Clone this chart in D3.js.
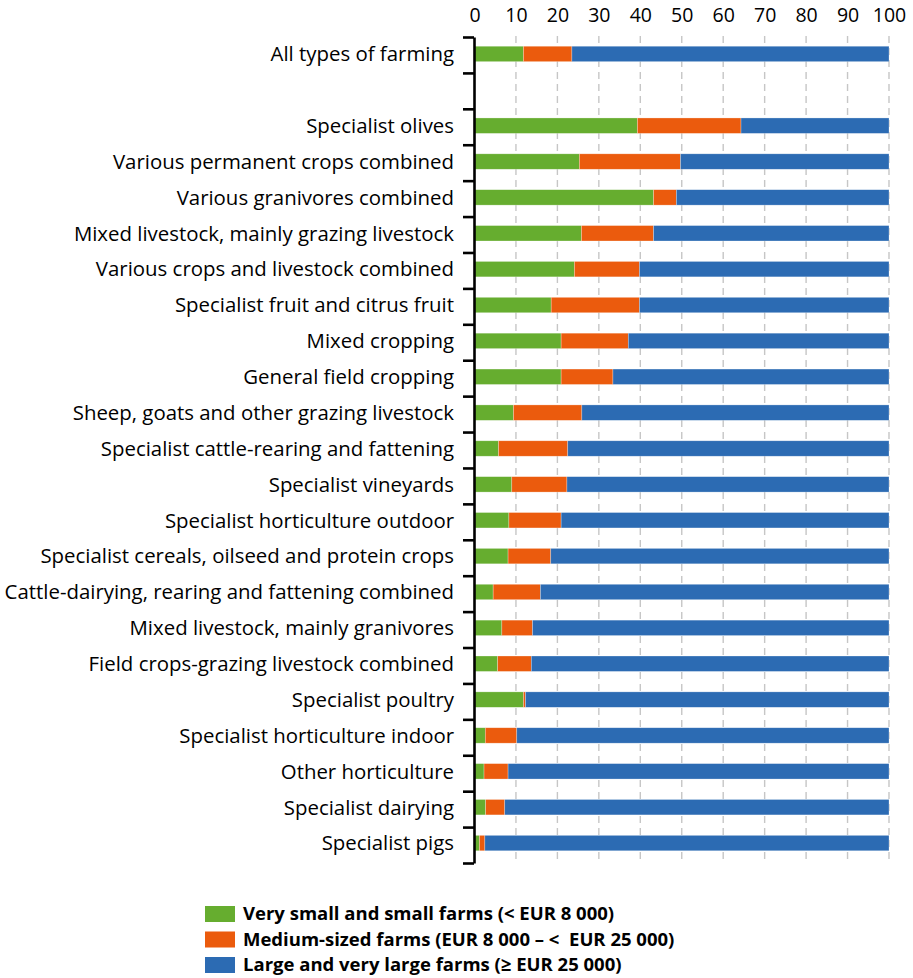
<!DOCTYPE html>
<html>
<head>
<meta charset="utf-8">
<script src="https://cdnjs.cloudflare.com/ajax/libs/d3/7.8.5/d3.min.js"></script>
<style>
  body { margin: 0; background: #fff; }
  text { font-family: "Open Sans", "Noto Sans", sans-serif; fill: #000; }
</style>
</head>
<body>
<script>
'use strict';

// farm types, top to bottom (the gap after the first row is added below)
const categories = [
  "All types of farming",
  "Specialist olives",
  "Various permanent crops combined",
  "Various granivores combined",
  "Mixed livestock, mainly grazing livestock",
  "Various crops and livestock combined",
  "Specialist fruit and citrus fruit",
  "Mixed cropping",
  "General field cropping",
  "Sheep, goats and other grazing livestock",
  "Specialist cattle-rearing and fattening",
  "Specialist vineyards",
  "Specialist horticulture outdoor",
  "Specialist cereals, oilseed and protein crops",
  "Cattle-dairying, rearing and fattening combined",
  "Mixed livestock, mainly granivores",
  "Field crops-grazing livestock combined",
  "Specialist poultry",
  "Specialist horticulture indoor",
  "Other horticulture",
  "Specialist dairying",
  "Specialist pigs"
];

// shares in %
const smallFarms = [11.8, 39.3, 25.3, 43.2, 25.8, 24.1, 18.5, 20.9, 20.9, 9.4, 5.8,
  9.0, 8.3, 8.1, 4.5, 6.6, 5.6, 11.8, 2.6, 2.3, 2.7, 1.2];
const mediumFarms = [11.7, 25.0, 24.4, 5.5, 17.4, 15.7, 21.3, 16.2, 12.5, 16.5, 16.7,
  13.3, 12.6, 10.3, 11.4, 7.4, 8.1, 0.5, 7.6, 5.8, 4.6, 1.3];
const largeFarms = smallFarms.map((d, i) => +(100 - d - mediumFarms[i]).toFixed(1));

const seriesNames = [
  "Very small and small farms (< EUR 8 000)",
  "Medium-sized farms (EUR 8 000 \u2013 <\u00a0 EUR 25 000)",
  "Large and very large farms (\u2265 EUR 25 000)"
];
const seriesColors = ["#66ad2f", "#eb5b0d", "#2c6bb3"];
const xTicks = [0, 10, 20, 30, 40, 50, 60, 70, 80, 90, 100];

const width = 913, height = 978;
const svg = d3.select('body').append('svg')
  .attr('width', width)
  .attr('height', height);

// one empty slot after "All types of farming"
const slots = [categories[0], ""].concat(categories.slice(1));
const plotTop = 36, plotBottom = 861;

const x = d3.scaleLinear().domain([0, 100]).range([474.5, 889]);
const y = d3.scaleBand().domain(slots).range([plotTop, plotBottom])
  .paddingInner(0.57).paddingOuter(0.285);

// dashed grid
svg.append('g')
  .selectAll('line')
  .data(xTicks.slice(1))
  .enter()
  .append('line')
    .attr('x1', d => x(d)).attr('x2', d => x(d))
    .attr('y1', plotTop).attr('y2', plotBottom)
    .attr('stroke', '#c6c6c6')
    .attr('stroke-width', 1.4)
    .attr('stroke-dasharray', '7,5');

// top axis, labels only
const xAxis = svg.append('g')
  .attr('transform', 'translate(0, 22)')
  .call(d3.axisTop(x).tickValues(xTicks).tickSize(0).tickPadding(0));
xAxis.select('.domain').remove();
xAxis.selectAll('text').style('font-size', '19.5px').style('font-family', '"Open Sans", sans-serif');

// stacked bars
const rows = categories.map((c, i) => ({
  name: c, vals: [smallFarms[i], mediumFarms[i], largeFarms[i]]
}));
const stack = d3.stack().keys([0, 1, 2]).value((d, k) => d.vals[k]);
const layers = stack(rows);

svg.append('g')
  .selectAll('g')
  .data(layers)
  .enter()
  .append('g')
    .attr('fill', (d, i) => seriesColors[i])
  .selectAll('rect')
  .data(d => d)
  .enter()
  .append('rect')
    .attr('x', d => x(d[0]))
    .attr('width', d => x(d[1]) - x(d[0]))
    .attr('y', d => y(d.data.name))
    .attr('height', y.bandwidth())
    .attr('stroke', '#ffffff')
    .attr('stroke-opacity', 0.45)
    .attr('stroke-width', 0.6);

// left axis with ticks between the rows
const edge = d3.scaleLinear().domain([0, slots.length]).range([plotTop + 1, plotBottom + 2]);
const yAxis = svg.append('g')
  .attr('transform', 'translate(474, 0)')
  .call(d3.axisLeft(edge).tickValues(d3.range(slots.length + 1))
    .tickFormat('').tickSizeOuter(0).tickSizeInner(11));
yAxis.selectAll('path, line').attr('stroke', '#000').attr('stroke-width', 2.6);

// category labels
svg.append('g')
  .selectAll('text')
  .data(categories)
  .enter()
  .append('text')
    .attr('x', 454)
    .attr('y', d => y(d) + y.bandwidth() / 2)
    .attr('dy', '0.36em')
    .attr('text-anchor', 'end')
    .style('font-size', '20.4px')
    .text(d => d);

// legend
const legend = svg.append('g')
  .attr('transform', 'translate(205, 906)');
const item = legend.selectAll('g')
  .data(seriesNames)
  .enter()
  .append('g')
    .attr('transform', (d, i) => 'translate(0,' + (i * 25.5) + ')');
item.append('rect')
  .attr('width', 30).attr('height', 16)
  .attr('fill', (d, i) => seriesColors[i]);
item.append('text')
  .attr('x', 38).attr('y', 8).attr('dy', '0.35em')
  .style('font-size', '18.5px').style('font-weight', 'bold')
  .text(d => d);
</script>
</body>
</html>
